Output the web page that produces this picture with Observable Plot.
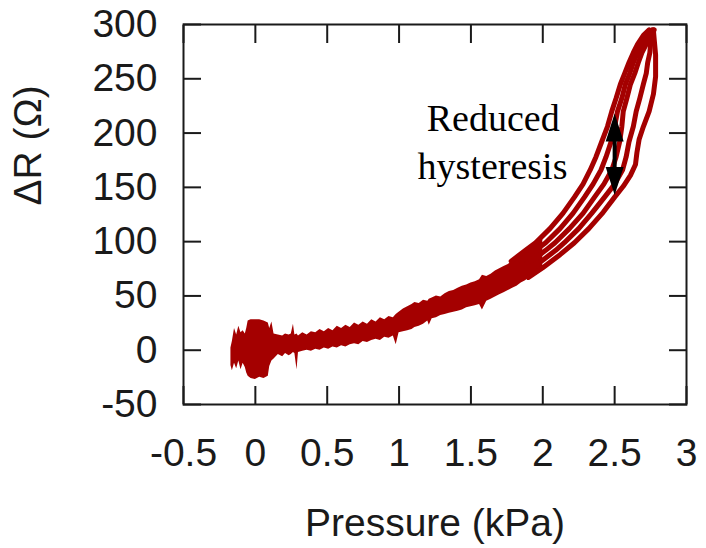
<!DOCTYPE html>
<html>
<head>
<meta charset="utf-8">
<script src="https://cdn.jsdelivr.net/npm/d3@7"></script>
<script src="https://cdn.jsdelivr.net/npm/@observablehq/plot@0.6"></script>
<style>
  html, body { margin: 0; padding: 0; background: #fff; }
</style>
</head>
<body>
<div id="chart"></div>
<script>
// ---- tick values ----
const xTicks = [-0.5, 0, 0.5, 1, 1.5, 2, 2.5, 3];
const yTicks = [-50, 0, 50, 100, 150, 200, 250, 300];

// ---- noisy band (low-pressure region): pressure, lower ΔR, upper ΔR ----
const bandX = [-0.17,-0.16,-0.145,-0.13,-0.115,-0.10,-0.085,-0.07,-0.06,-0.05,-0.03,0.0,0.03,0.06,0.09,0.10,0.115,0.13,0.16,0.19,
  0.21,0.235,0.25,0.265,0.275,0.29,0.30,0.33,0.36,0.39,0.42,0.45,0.48,0.51,0.54,0.57,0.60,0.63,0.66,0.69,
  0.72,0.75,0.78,0.81,0.84,0.87,0.90,0.93,0.96,0.98,1.00,1.03,1.06,1.09,1.11,1.14,1.17,1.20,1.21,1.23,
  1.26,1.29,1.32,1.35,1.38,1.41,1.44,1.47,1.50,1.53,1.56,1.58,1.61,1.64,1.67,1.70,1.73,1.76,1.79,1.82,
  1.85,1.88,1.90,1.93,1.96,2.00];
const bandLow = [-14,-19,-12,-17,-10,-18,-12,-16,-21,-24,-26,-27,-25,-26,-24,-15,-10,-8,-4,-6,
  -3,-5,-4,-2,-3,-18,-2,-1,0,-1,1,0,2,1,3,2,4,3,5,6,
  5,8,7,9,10,9,12,11,13,5,16,17,18,19,21,22,24,27,23,29,
  30,32,33,34,35,36,37,39,40,41,42,37,45,47,49,51,53,55,57,59,
  62,64,66,68,71,74];
const bandHigh = [2,8,20,14,22,16,18,15,20,27,28,28,28,27,25,20,26,15,14,13,
  15,14,15,24,14,15,13,16,14,17,16,19,17,20,18,22,20,23,21,25,
  23,26,24,28,26,30,28,31,30,33,35,38,40,42,44,43,46,45,47,48,
  50,49,52,54,55,57,59,60,62,63,65,69,68,70,73,75,77,79,82,85,
  88,91,93,96,99,104];

// ---- loop strands (high-pressure region, cycles separate) ----
const strandLevels = [82, 92, 99, 112, 126, 141, 153, 166, 178, 192, 206, 220, 232, 245, 255, 265, 274, 282, 290, 295];
const strand1X = [1.78, 1.88, 1.95, 2.05, 2.14, 2.22, 2.28, 2.33, 2.37, 2.41, 2.45, 2.48, 2.51, 2.54, 2.57, 2.60, 2.63, 2.66, 2.70, 2.74];
const strand2X = [1.85, 1.95, 2.02, 2.12, 2.21, 2.29, 2.35, 2.405, 2.44, 2.475, 2.50, 2.52, 2.55, 2.575, 2.605, 2.63, 2.66, 2.69, 2.725, 2.76];
const strand3X = [1.92, 2.02, 2.085, 2.185, 2.28, 2.36, 2.425, 2.48, 2.51, 2.535, 2.55, 2.56, 2.585, 2.61, 2.64, 2.665, 2.69, 2.72, 2.745, 2.77];
const strand4X = [1.99, 2.09, 2.15, 2.25, 2.34, 2.43, 2.50, 2.555, 2.58, 2.60, 2.63, 2.65, 2.675, 2.70, 2.72, 2.73, 2.745, 2.75, 2.76, 2.775];
const outerX = [1.90, 2.00, 2.12, 2.22, 2.32, 2.42, 2.50, 2.56, 2.61, 2.645, 2.655, 2.67, 2.70, 2.74, 2.77, 2.785, 2.785, 2.77];
const outerY = [67, 76, 88, 99, 112, 127, 141, 151, 161, 171, 182, 194, 206, 220, 236, 252, 272, 294];

// ---- annotation ----
const annotLines = ["Reduced", "hysteresis"];
const annotX = [1.655, 1.65];
const annotY = [202, 158];
const arrowX = 2.5;
const arrowTop = 218;
const arrowBottom = 143;

const RED = "#a40000";
const INK = "#1a1a1a";

const band = bandX.map((x, i) => ({x, lo: bandLow[i], hi: bandHigh[i]}));
const strands = [];
[strand1X, strand2X, strand3X, strand4X].forEach((xs, k) =>
  xs.forEach((x, i) => strands.push({id: "s" + k, x, y: strandLevels[i]})));
outerX.forEach((x, i) => strands.push({id: "outer", x, y: outerY[i]}));
const annot = annotLines.map((t, i) => ({t, x: annotX[i], y: annotY[i]}));
const heads = [
  {x: arrowX, y: arrowTop, rot: 0},
  {x: arrowX, y: arrowBottom, rot: 180}
];
const tri = {
  draw(ctx, l, r) {
    ctx.moveTo(0, -l);
    ctx.lineTo(-r, 0);
    ctx.lineTo(r, 0);
    ctx.closePath();
  }
};

const fmt = d => String(d);
const SANS = "'Liberation Sans', Arial, Helvetica, sans-serif";

const chart = Plot.plot({
  width: 706,
  height: 548,
  marginLeft: 183,
  marginRight: 20,
  marginTop: 24,
  marginBottom: 144,
  x: {domain: [-0.5, 3]},
  y: {domain: [-50, 300]},
  style: {fontFamily: SANS, fontSize: "39px", color: INK, background: "#fff", overflow: "visible"},
  marks: [
    Plot.areaY(band, {x: "x", y1: "lo", y2: "hi", fill: RED}),
    Plot.line(strands, {x: "x", y: "y", z: "id", stroke: RED, strokeWidth: 5, strokeLinejoin: "round", strokeLinecap: "round"}),
    Plot.ruleX([arrowX], {x: d => d, y1: arrowBottom + 8, y2: arrowTop - 8, stroke: "#000", strokeWidth: 4}),
    Plot.vector(heads, {x: "x", y: "y", rotate: "rot", length: 28, r: 9, anchor: "end", shape: tri, fill: "#000", stroke: "none"}),
    Plot.text(annot, {x: "x", y: "y", text: "t", fontFamily: "'Liberation Serif', 'Times New Roman', serif", fontSize: 38, lineAnchor: "bottom", fill: "#000"}),
    Plot.frame({stroke: INK, strokeWidth: 2}),
    Plot.axisX({anchor: "bottom", ticks: xTicks, tickSize: 0, tickPadding: 34, tickFormat: fmt, label: null, fontSize: 39}),
    Plot.axisX({anchor: "bottom", ticks: xTicks, tickSize: -18, text: null, label: null, stroke: INK, strokeWidth: 2}),
    Plot.axisX({anchor: "top", ticks: xTicks, tickSize: -18, text: null, label: null, stroke: INK, strokeWidth: 2}),
    Plot.axisY({anchor: "left", ticks: yTicks, tickSize: 0, tickPadding: 26, tickFormat: fmt, label: null, fontSize: 39}),
    Plot.axisY({anchor: "left", ticks: yTicks, tickSize: -18, text: null, label: null, stroke: INK, strokeWidth: 2}),
    Plot.axisY({anchor: "right", ticks: yTicks, tickSize: -18, text: null, label: null, stroke: INK, strokeWidth: 2}),
    Plot.text(["Pressure (kPa)"], {frameAnchor: "bottom", text: d => d, dy: 131, lineAnchor: "bottom", fontSize: 39, fill: INK}),
    Plot.text(["ΔR (Ω)"], {frameAnchor: "left", text: d => d, rotate: -90, dx: -155, dy: -9, lineAnchor: "middle", fontSize: 39, fill: INK})
  ]
});
document.getElementById("chart").appendChild(chart);
</script>
</body>
</html>
